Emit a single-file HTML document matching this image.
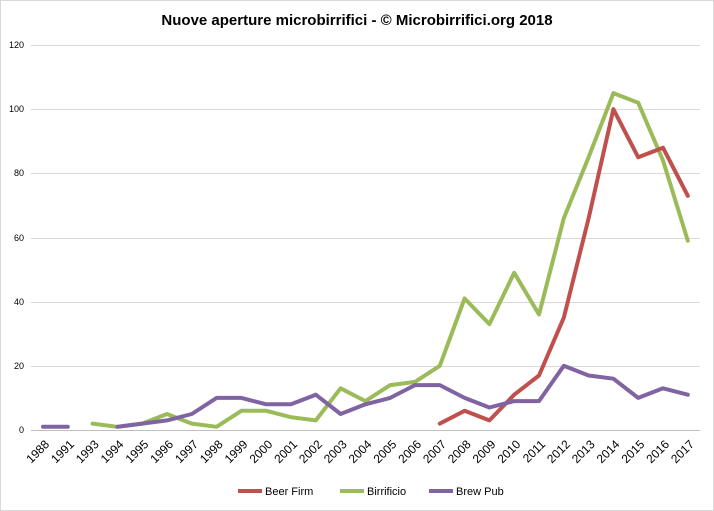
<!DOCTYPE html>
<html><head><meta charset="utf-8"><style>
html,body{margin:0;padding:0;background:#fff;}
svg{display:block;font-family:"Liberation Sans",sans-serif;}
</style></head><body>
<svg width="714" height="511" viewBox="0 0 714 511" xmlns="http://www.w3.org/2000/svg">
<rect x="0.5" y="0.5" width="713" height="510" fill="#fff" stroke="#d9d9d9"/>
<text x="357" y="25" text-anchor="middle" font-size="15" font-weight="bold" fill="#000">Nuove aperture microbirrifici - © Microbirrifici.org 2018</text>
<g stroke="#d9d9d9" stroke-width="1">
<line x1="31" y1="45.5" x2="700" y2="45.5"/>
<line x1="31" y1="109.5" x2="700" y2="109.5"/>
<line x1="31" y1="173.5" x2="700" y2="173.5"/>
<line x1="31" y1="238.5" x2="700" y2="238.5"/>
<line x1="31" y1="302.5" x2="700" y2="302.5"/>
<line x1="31" y1="366.5" x2="700" y2="366.5"/>
</g>
<line x1="31" y1="430.5" x2="700" y2="430.5" stroke="#bfbfbf"/>
<g font-size="9" text-anchor="end" fill="#000">
<text x="24" y="48">120</text><text x="24" y="112">100</text><text x="24" y="176">80</text>
<text x="24" y="241">60</text><text x="24" y="305">40</text><text x="24" y="369">20</text><text x="24" y="433">0</text>
</g>
<g font-size="12" text-anchor="end" fill="#000">
<text transform="translate(50,445) rotate(-45)">1988</text>
<text transform="translate(74.8,445) rotate(-45)">1991</text>
<text transform="translate(99.6,445) rotate(-45)">1993</text>
<text transform="translate(124.4,445) rotate(-45)">1994</text>
<text transform="translate(149.2,445) rotate(-45)">1995</text>
<text transform="translate(174,445) rotate(-45)">1996</text>
<text transform="translate(198.8,445) rotate(-45)">1997</text>
<text transform="translate(223.6,445) rotate(-45)">1998</text>
<text transform="translate(248.4,445) rotate(-45)">1999</text>
<text transform="translate(273.2,445) rotate(-45)">2000</text>
<text transform="translate(298,445) rotate(-45)">2001</text>
<text transform="translate(322.8,445) rotate(-45)">2002</text>
<text transform="translate(347.6,445) rotate(-45)">2003</text>
<text transform="translate(372.4,445) rotate(-45)">2004</text>
<text transform="translate(397.2,445) rotate(-45)">2005</text>
<text transform="translate(422,445) rotate(-45)">2006</text>
<text transform="translate(446.8,445) rotate(-45)">2007</text>
<text transform="translate(471.6,445) rotate(-45)">2008</text>
<text transform="translate(496.4,445) rotate(-45)">2009</text>
<text transform="translate(521.2,445) rotate(-45)">2010</text>
<text transform="translate(546,445) rotate(-45)">2011</text>
<text transform="translate(570.8,445) rotate(-45)">2012</text>
<text transform="translate(595.6,445) rotate(-45)">2013</text>
<text transform="translate(620.4,445) rotate(-45)">2014</text>
<text transform="translate(645.2,445) rotate(-45)">2015</text>
<text transform="translate(670,445) rotate(-45)">2016</text>
<text transform="translate(694.8,445) rotate(-45)">2017</text>
</g>
<g fill="none" stroke-width="4" stroke-linejoin="round" stroke-linecap="round">
<polyline stroke="#9bbb59" points="92.6,423.6 117.4,426.8 142.2,423.6 167,414 191.8,423.6 216.6,426.8 241.4,410.8 266.2,410.8 291,417.2 315.8,420.4 340.6,388.3 365.4,401.1 390.2,385.1 415,381.9 439.8,365.8 464.6,298.5 489.4,324.1 514.2,272.8 539,314.5 563.8,218.3 588.6,157.3 613.4,93.1 638.2,102.7 663,160.5 687.8,240.7"/>
<polyline stroke="#c0504d" points="439.8,423.6 464.6,410.8 489.4,420.4 514.2,394.7 539,375.5 563.8,317.7 588.6,218.3 613.4,109.2 638.2,157.3 663,147.7 687.8,195.8"/>
<polyline stroke="#8064a2" points="43,426.8 67.8,426.8"/>
<polyline stroke="#8064a2" points="117.4,426.8 142.2,423.6 167,420.4 191.8,414 216.6,397.9 241.4,397.9 266.2,404.3 291,404.3 315.8,394.7 340.6,414 365.4,404.3 390.2,397.9 415,385.1 439.8,385.1 464.6,397.9 489.4,407.5 514.2,401.1 539,401.1 563.8,365.8 588.6,375.5 613.4,378.7 638.2,397.9 663,388.3 687.8,394.7"/>
</g>
<g font-size="11" fill="#000">
<line x1="238" y1="491" x2="262" y2="491" stroke="#c0504d" stroke-width="4"/><text x="265" y="495">Beer Firm</text>
<line x1="340" y1="491" x2="364" y2="491" stroke="#9bbb59" stroke-width="4"/><text x="367" y="495">Birrificio</text>
<line x1="429" y1="491" x2="453" y2="491" stroke="#8064a2" stroke-width="4"/><text x="456" y="495">Brew Pub</text>
</g>
</svg>
</body></html>
